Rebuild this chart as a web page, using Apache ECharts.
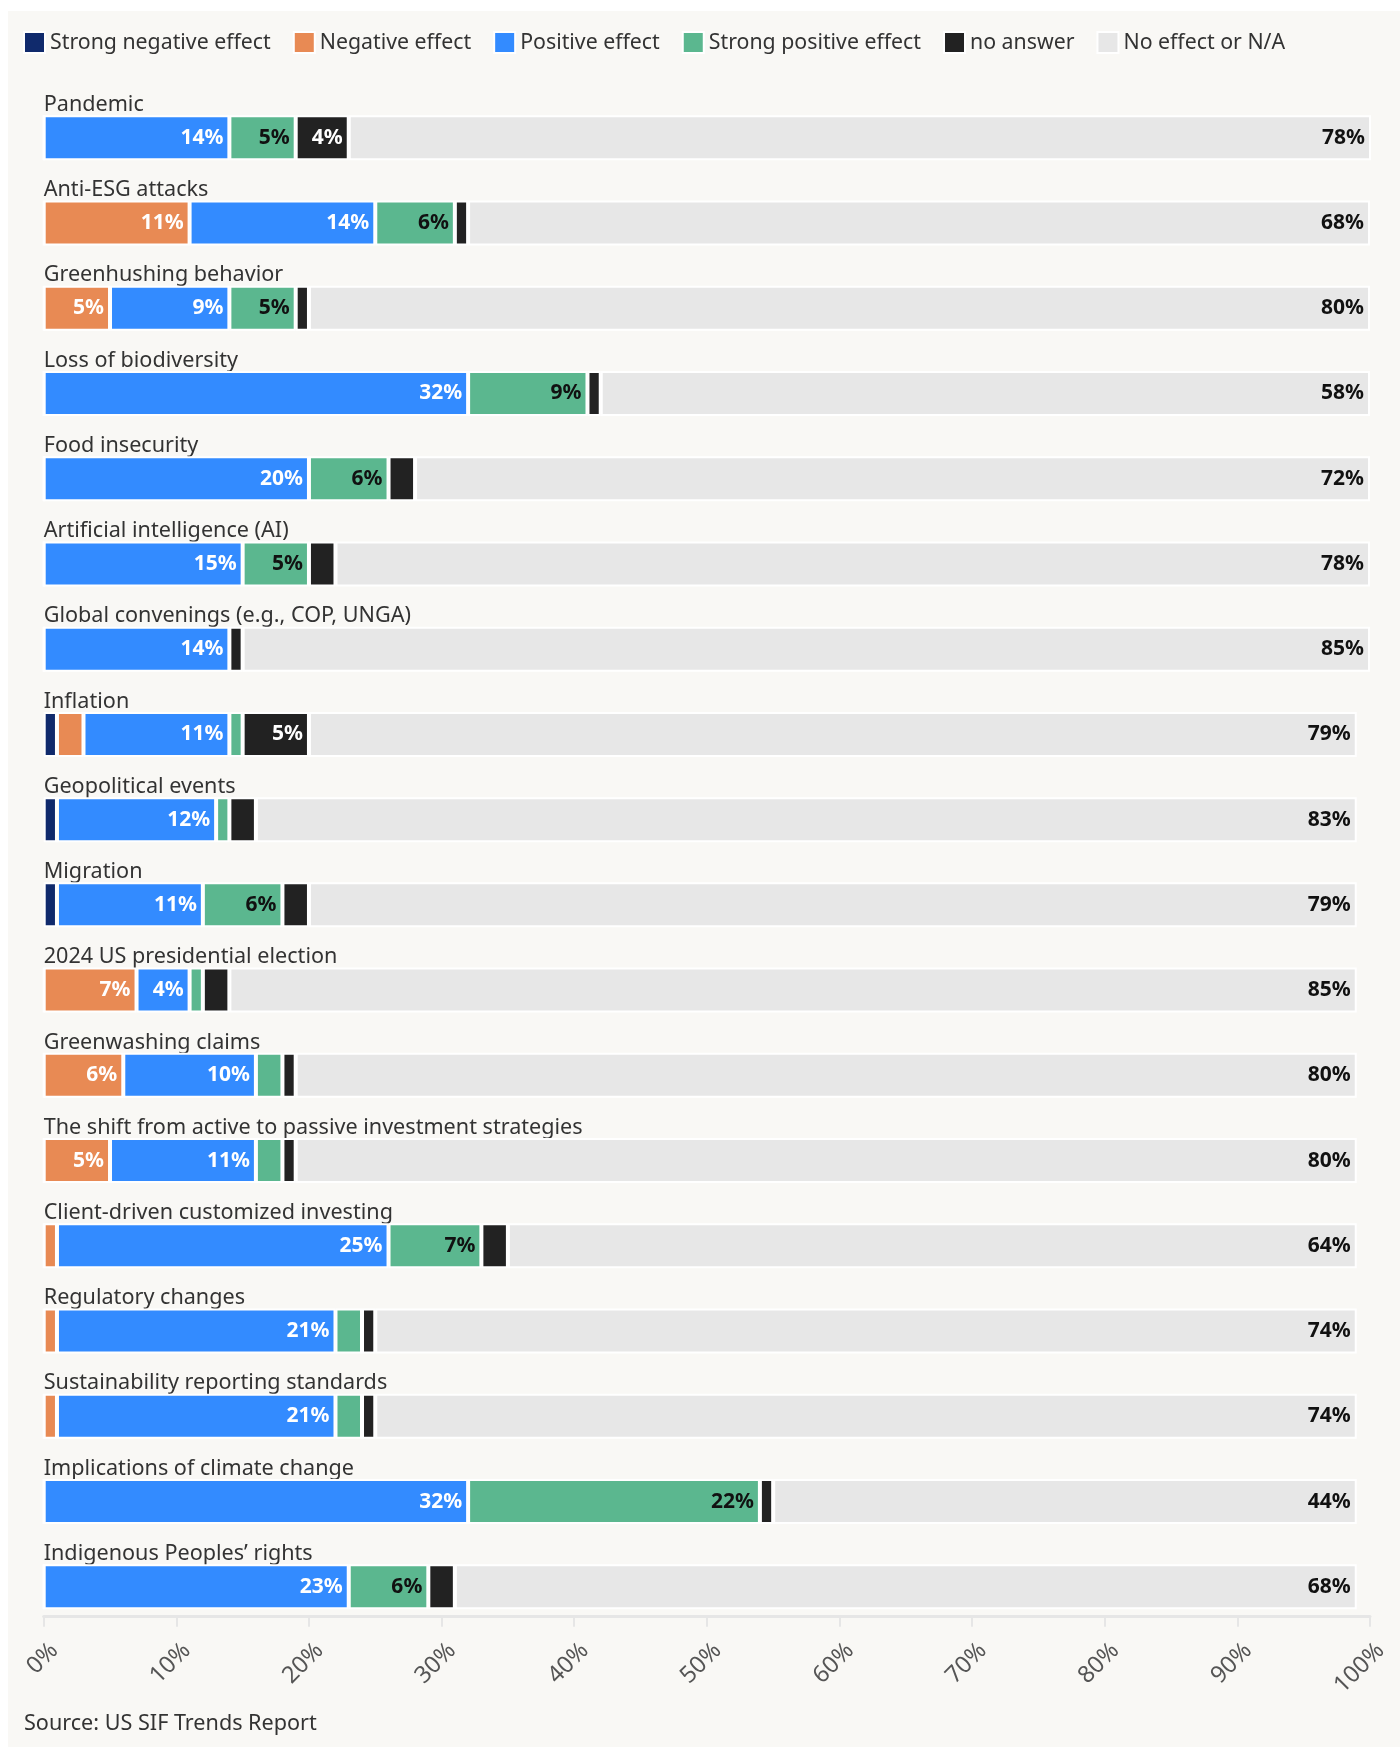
<!DOCTYPE html>
<html>
<head>
<meta charset="utf-8">
<script src="https://cdn.jsdelivr.net/npm/echarts@6/dist/echarts.min.js"></script>
<style>
html,body{margin:0;padding:0;background:#fff;}
#chart{width:1400px;height:1747px;}
</style>
</head>
<body>
<div id="chart"></div>
<script>
const categories = [
  "Pandemic",
  "Anti-ESG attacks",
  "Greenhushing behavior",
  "Loss of biodiversity",
  "Food insecurity",
  "Artificial intelligence (AI)",
  "Global convenings (e.g., COP, UNGA)",
  "Inflation",
  "Geopolitical events",
  "Migration",
  "2024 US presidential election",
  "Greenwashing claims",
  "The shift from active to passive investment strategies",
  "Client-driven customized investing",
  "Regulatory changes",
  "Sustainability reporting standards",
  "Implications of climate change",
  "Indigenous Peoples\u2019 rights"
];
const strongNegative = [0, 0, 0, 0, 0, 0, 0, 1, 1, 1, 0, 0, 0, 0, 0, 0, 0, 0];
const negative       = [0, 11, 5, 0, 0, 0, 0, 2, 0, 0, 7, 6, 5, 1, 1, 1, 0, 0];
const positive       = [14, 14, 9, 32, 20, 15, 14, 11, 12, 11, 4, 10, 11, 25, 21, 21, 32, 23];
const strongPositive = [5, 6, 5, 9, 6, 5, 0, 1, 1, 6, 1, 2, 2, 7, 2, 2, 22, 6];
const noAnswer       = [4, 1, 1, 1, 2, 2, 1, 5, 2, 2, 2, 1, 1, 2, 1, 1, 1, 2];
const noEffect       = [78, 68, 80, 58, 72, 78, 85, 79, 83, 79, 85, 80, 80, 64, 74, 74, 44, 68];
const xTicks = [0, 10, 20, 30, 40, 50, 60, 70, 80, 90, 100];

const FONT = '"Noto Sans", "Open Sans", sans-serif';

const seriesDefs = [
  {name: "Strong negative effect", data: strongNegative, color: "#102a6c", label: "#ffffff"},
  {name: "Negative effect", data: negative, color: "#e88a54", label: "#ffffff"},
  {name: "Positive effect", data: positive, color: "#338bff", label: "#ffffff"},
  {name: "Strong positive effect", data: strongPositive, color: "#5bb78f", label: "#111111"},
  {name: "no answer", data: noAnswer, color: "#222222", label: "#ffffff"},
  {name: "No effect or N/A", data: noEffect, color: "#e7e7e7", label: "#111111"}
];

const chart = echarts.init(document.getElementById('chart'), null, {renderer: 'canvas'});

const option = {
  backgroundColor: '#ffffff',
  animation: false,
  textStyle: {fontFamily: FONT},
  graphic: [{
    type: 'rect',
    z: -100,
    silent: true,
    shape: {x: 8, y: 11, width: 1392, height: 1736},
    style: {fill: '#f9f8f5'}
  }],
  title: {
    text: 'Source: US SIF Trends Report',
    left: 24,
    top: 1713,
    padding: 0,
    textStyle: {fontFamily: FONT, fontSize: 21.6, fontWeight: 'normal', color: '#333333'}
  },
  legend: {
    left: 23,
    top: 31,
    padding: 0,
    icon: 'rect',
    itemWidth: 21,
    itemHeight: 21,
    itemGap: 22,
    selectedMode: false,
    textStyle: {fontFamily: FONT, fontSize: 21.3, color: '#333333'},
    data: seriesDefs.map(s => s.name)
  },
  grid: {
    left: 43.7,
    right: 30,
    top: 95.1,
    height: 1534.3,
    containLabel: false
  },
  xAxis: {
    type: 'value',
    min: xTicks[0],
    max: xTicks[xTicks.length - 1],
    interval: xTicks[1] - xTicks[0],
    offset: -12.7,
    splitLine: {show: false},
    axisLine: {show: true, lineStyle: {color: '#e6e6e6', width: 3}},
    axisTick: {show: true, length: 10, lineStyle: {color: '#e6e6e6', width: 2}},
    axisLabel: {
      rotate: 45,
      margin: 24,
      verticalAlign: 'top',
      padding: [0, -3, 0, 0],
      fontFamily: FONT,
      fontSize: 23.5,
      color: '#555555',
      formatter: v => v + '%'
    }
  },
  yAxis: {
    type: 'category',
    inverse: true,
    data: categories,
    axisLine: {show: false},
    axisTick: {show: false},
    splitLine: {show: false},
    axisLabel: {
      inside: true,
      interval: 0,
      margin: 0,
      align: 'left',
      verticalAlign: 'bottom',
      padding: [0, 0, 22, 0],
      fontFamily: FONT,
      fontSize: 21.6,
      color: '#333333'
    }
  },
  series: seriesDefs.map(s => ({
    name: s.name,
    type: 'bar',
    stack: 'total',
    barWidth: 45,
    data: s.data,
    itemStyle: {color: s.color, borderColor: '#ffffff', borderWidth: 2},
    emphasis: {disabled: true},
    label: {
      show: true,
      position: 'insideRight',
      distance: 6,
      fontFamily: FONT,
      fontSize: 21,
      fontWeight: 'bold',
      color: s.label,
      formatter: p => (p.value >= 4 ? p.value + '%' : '')
    }
  }))
};

chart.setOption(option);
</script>
</body>
</html>
